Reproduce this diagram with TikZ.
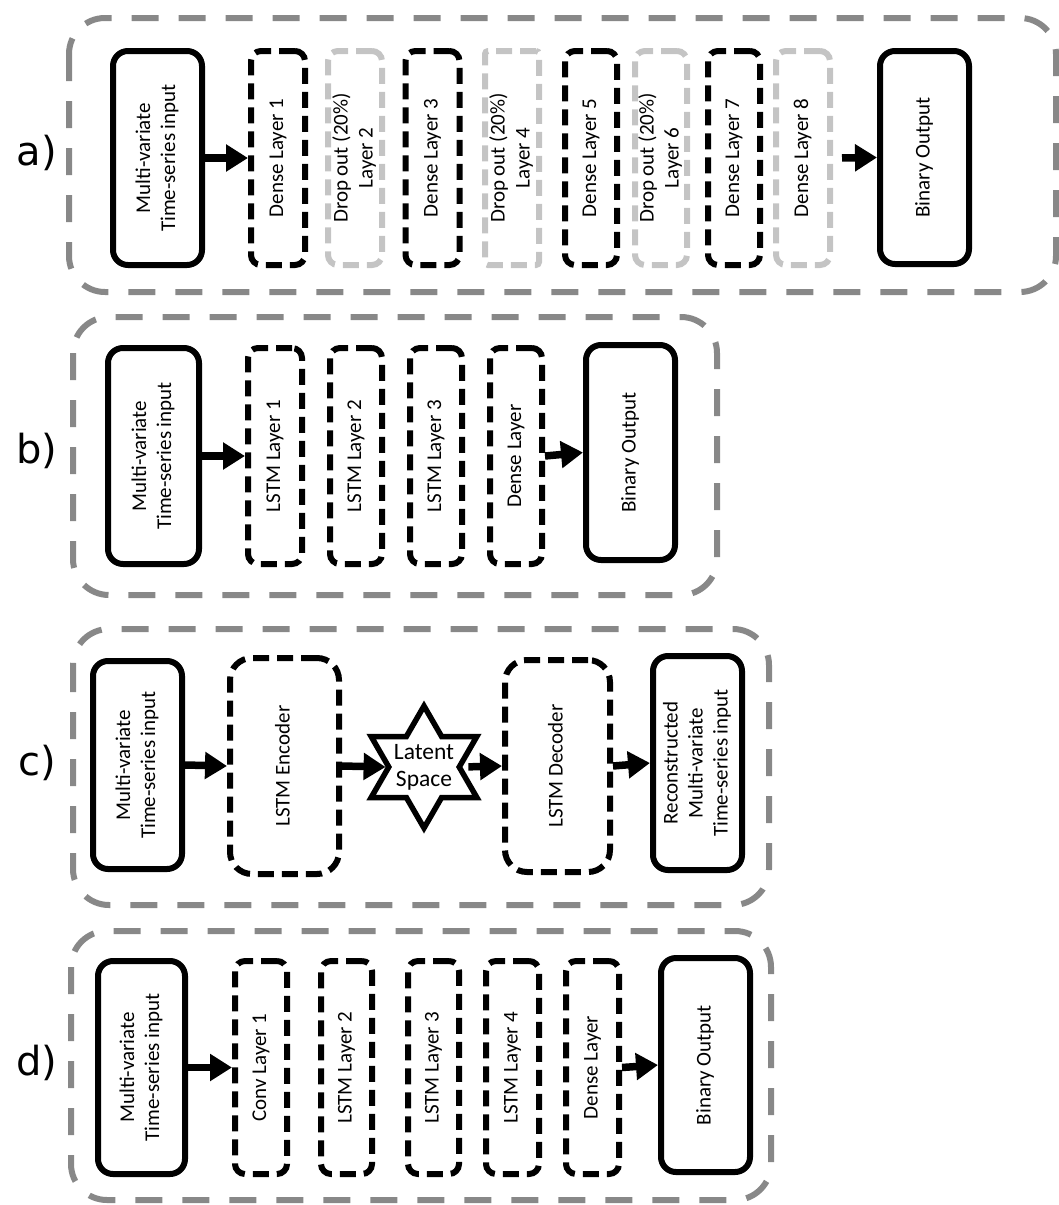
\documentclass[tikz,border=0pt]{standalone}
\usepackage{fontspec}
\setmainfont{Carlito}
\newfontfamily\labelfont{DejaVu Sans}
\usetikzlibrary{arrows.meta,shapes.geometric}
\newcommand{\vtxt}[1]{\rotatebox{90}{\begin{tabular}{@{}c@{}}#1\end{tabular}}}
\definecolor{outergray}{HTML}{888888}
\definecolor{softgray}{HTML}{C4C4C4}
\begin{document}
\begin{tikzpicture}[x=1pt,y=-1pt,
  every node/.style={font=\fontsize{21}{25}\selectfont, inner sep=0pt},
  solidbox/.style={draw=black, line width=6pt, rounded corners=15pt},
  dashbox/.style={draw=black, line width=6pt, rounded corners=10pt, dash pattern=on 16pt off 8pt},
  bigdash/.style={dashbox, rounded corners=22pt},
  graybox/.style={dashbox, draw=softgray},
  outerbox/.style={draw=outergray, line width=6pt, rounded corners=36pt, dash pattern=on 27pt off 20pt},
  arr/.style={line width=7.5pt, -{Triangle[length=22pt,width=26pt]}},
  panel/.style={font=\labelfont\fontsize{40}{46}\selectfont}
]
\useasboundingbox (0,0) rectangle (1059,1205);

% ---------- panel a ----------
\draw[outerbox] (69,18) rectangle (1056,292);
\node[panel] (la) at (37,153) {a)};
\node[solidbox, minimum width=89pt, minimum height=214pt] (ain) at (157.5,158) {\vtxt{Multi-variate\\Time-series input}};
\node[dashbox, minimum width=54pt, minimum height=214pt] (ad1) at (278,158) {\vtxt{Dense Layer 1}};
\node[graybox, minimum width=54pt, minimum height=214pt] (ad2) at (355,158) {\vtxt{Drop out (20\%)\\Layer 2}};
\node[dashbox, minimum width=54pt, minimum height=214pt] (ad3) at (432.5,158) {\vtxt{Dense Layer 3}};
\node[graybox, rounded corners=3pt, minimum width=54pt, minimum height=214pt] (ad4) at (512,158) {\vtxt{Drop out (20\%)\\Layer 4}};
\node[dashbox, minimum width=52pt, minimum height=214pt] (ad5) at (591,158) {\vtxt{Dense Layer 5}};
\node[graybox, minimum width=52pt, minimum height=214pt] (ad6) at (661,158) {\vtxt{Drop out (20\%)\\Layer 6}};
\node[dashbox, minimum width=52pt, minimum height=214pt] (ad7) at (734,158) {\vtxt{Dense Layer 7}};
\node[graybox, minimum width=54pt, minimum height=214pt] (ad8) at (803,158) {\vtxt{Dense Layer 8}};
\node[solidbox, minimum width=89pt, minimum height=213pt] (aout) at (924.5,157.5) {\vtxt{Binary Output}};
\draw[arr] (ain.east) -- (ad1.west);
\draw[arr, shorten <=9pt] (ad8.east) -- (aout.west);

% ---------- panel b ----------
\draw[outerbox] (73,317) rectangle (717,595);
\node[panel] (lb) at (37,451) {b)};
\node[solidbox, minimum width=91pt, minimum height=216pt] (bin) at (153.5,456) {\vtxt{Multi-variate\\Time-series input}};
\node[dashbox, minimum width=54pt, minimum height=216pt] (bl1) at (275,456) {\vtxt{LSTM Layer 1}};
\node[dashbox, minimum width=52pt, minimum height=216pt] (bl2) at (356,456) {\vtxt{LSTM Layer 2}};
\node[dashbox, minimum width=52pt, minimum height=216pt] (bl3) at (436,456) {\vtxt{LSTM Layer 3}};
\node[dashbox, minimum width=52pt, minimum height=216pt] (bdn) at (516,456) {\vtxt{Dense Layer}};
\node[solidbox, minimum width=89pt, minimum height=215pt] (bout) at (630.5,452.5) {\vtxt{Binary Output}};
\draw[arr] (bin.east) -- (bl1.west);
\draw[arr] (bdn.east) -- (bout.west);

% ---------- panel c ----------
\draw[outerbox] (73,629) rectangle (769,905);
\node[panel] (lc) at (37,763) {c)};
\node[solidbox, minimum width=89pt, minimum height=208pt] (cin) at (137.5,765) {\vtxt{Multi-variate\\Time-series input}};
\node[bigdash, minimum width=109pt, minimum height=216pt] (cenc) at (284.5,766) {\vtxt{LSTM Encoder}};
\node[star, star points=6, star point ratio=1.732, minimum size=122pt, draw=black, line width=5.5pt] (cstar) at (424,767) {};
\node[align=center, font=\fontsize{23.5}{27}\selectfont] (clat) at (cstar.center) {Latent\\Space};
\node[bigdash, minimum width=105pt, minimum height=212pt] (cdec) at (557.5,766) {\vtxt{LSTM Decoder}};
\node[solidbox, minimum width=89pt, minimum height=214pt] (crec) at (697.5,763) {\vtxt{Reconstructed\\Multi-variate\\Time-series input}};
\draw[arr] (cin.east) -- (cenc.west);
\draw[arr] (cenc.east) -- (cstar.west);
\draw[arr, shorten <=6pt] (cstar.east) -- (cdec.west);
\draw[arr] (cdec.east) -- (crec.west);

% ---------- panel d ----------
\draw[outerbox] (71,931) rectangle (771,1200);
\node[panel] (ld) at (37,1063) {d)};
\node[solidbox, minimum width=87pt, minimum height=213pt] (din) at (141.5,1067.5) {\vtxt{Multi-variate\\Time-series input}};
\node[dashbox, minimum width=52pt, minimum height=213pt] (dc1) at (261,1067.5) {\vtxt{Conv Layer 1}};
\node[dashbox, minimum width=51pt, minimum height=213pt] (dl2) at (346.5,1067.5) {\vtxt{LSTM Layer 2}};
\node[dashbox, minimum width=51pt, minimum height=213pt] (dl3) at (433.5,1067.5) {\vtxt{LSTM Layer 3}};
\node[dashbox, minimum width=53pt, minimum height=213pt] (dl4) at (512.5,1067.5) {\vtxt{LSTM Layer 4}};
\node[dashbox, minimum width=53pt, minimum height=213pt] (ddn) at (592.5,1067.5) {\vtxt{Dense Layer}};
\node[solidbox, minimum width=89pt, minimum height=214pt] (dout) at (705.5,1065) {\vtxt{Binary Output}};
\draw[arr] (din.east) -- (dc1.west);
\draw[arr] (ddn.east) -- (dout.west);
\end{tikzpicture}
\end{document}
